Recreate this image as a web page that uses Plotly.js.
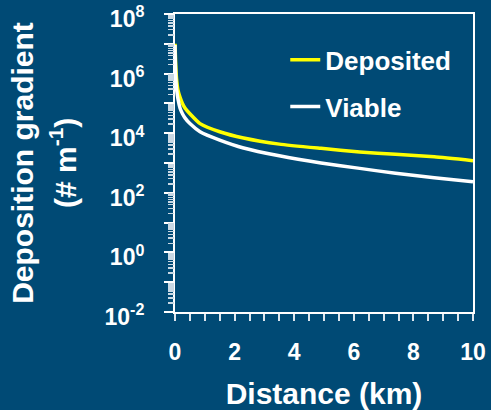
<!DOCTYPE html>
<html>
<head>
<meta charset="utf-8">
<script src="https://cdn.plot.ly/plotly-3.0.1.min.js"></script>
<style>
html,body{margin:0;padding:0;background:#004A75;}
#chart{width:491px;height:410px;}
</style>
</head>
<body>
<div id="chart"></div>
<script>
// Distance (km)
const distance  = [0, 0.02, 0.05, 0.1, 0.17, 0.25, 0.34, 0.5, 0.84, 1.5, 2.3, 3.5, 4.9, 6.2, 7.4, 8.7, 10];
// Deposition gradient (# m^-1)
const deposited = [1.0e7, 2.5e6, 7.1e5, 2.8e5, 1.6e5, 1.0e5, 6.9e4, 4.5e4, 2.1e4, 1.12e4, 6.9e3, 4.3e3, 3.1e3, 2.35e3, 1.95e3, 1.62e3, 1.2e3];
const viable    = [9.1e6, 1.0e6, 3.2e5, 1.4e5, 6.9e4, 4.5e4, 3.2e4, 2.1e4, 1.12e4, 5.9e3, 3.2e3, 1.74e3, 1.0e3, 660, 450, 320, 235];
const seriesNames = ['Deposited', 'Viable'];

const xTickVals = [0,0.5,1,1.5,2,2.5,3,3.5,4,4.5,5,5.5,6,6.5,7,7.5,8,8.5,9,9.5,10];
const xTickText = ['0','','','','2','','','','4','','','','6','','','','8','','','','10'];
const yTickVals = [1e-2,1e-1,1e0,1e1,1e2,1e3,1e4,1e5,1e6,1e7,1e8];
const yTickText = ['10<sup>-2</sup>','','10<sup>0</sup>','','10<sup>2</sup>','','10<sup>4</sup>','','10<sup>6</sup>','','10<sup>8</sup>'];
const yMinorVals = [];
for (let e = -2; e < 8; e++) for (let m = 2; m <= 9; m++) yMinorVals.push(m * Math.pow(10, e));

const FONT = 'Liberation Sans, Arial, sans-serif';
const BG = '#004A75';
const Y_RANGE = [-2.0002, 8.0002];

const traces = [
  {x: distance, y: deposited, name: seriesNames[0], mode: 'lines', legendgroup: 'a',
   line: {color: '#FFFF00', width: 3.5, shape: 'spline', smoothing: 0.5}},
  {x: distance, y: viable, name: seriesNames[1], mode: 'lines', legendgroup: 'b',
   line: {color: '#FFFFFF', width: 3.5, shape: 'spline', smoothing: 0.5}}
];

const layout = {
  width: 491, height: 410,
  paper_bgcolor: BG, plot_bgcolor: BG,
  margin: {l: 175, r: 18, t: 14, b: 98},
  font: {family: FONT, color: '#FFFFFF'},
  showlegend: true,
  legend: {x: 0.37, y: 0.925, xanchor: 'left', yanchor: 'top', bgcolor: 'rgba(0,0,0,0)',
           font: {size: 26, weight: 'bold', color: '#FFFFFF', family: FONT}, tracegroupgap: 10},
  xaxis: {
    range: [0, 10], showgrid: false, zeroline: false,
    showline: true, linecolor: '#FFFFFF', linewidth: 2, mirror: true,
    tickmode: 'array', tickvals: xTickVals, ticktext: xTickText,
    ticks: 'outside', ticklen: 7, tickwidth: 2, tickcolor: '#DDE6EE',
    ticklabelstandoff: 11, ticklabeloverflow: 'allow',
    tickfont: {size: 23, weight: 'bold', color: '#FFFFFF', family: FONT},
    title: {text: 'Distance (km)', font: {size: 30, weight: 'bold', color: '#FFFFFF', family: FONT}, standoff: 23}
  },
  yaxis: {
    type: 'log', range: Y_RANGE, showgrid: false, zeroline: false,
    showline: true, linecolor: '#FFFFFF', linewidth: 2, mirror: true,
    tickmode: 'array', tickvals: yTickVals, ticktext: yTickText,
    ticks: 'outside', ticklen: 9, tickwidth: 2, tickcolor: '#FFFFFF',
    ticklabelstandoff: 15, ticklabelshift: 5, ticklabeloverflow: 'allow',
    tickfont: {size: 23, weight: 'bold', color: '#FFFFFF', family: FONT},
    title: {text: 'Deposition gradient', font: {size: 30, weight: 'bold', color: '#FFFFFF', family: FONT}, standoff: 62}
  },
  yaxis2: {
    type: 'log', range: Y_RANGE, overlaying: 'y', side: 'left', showgrid: false, zeroline: false,
    showline: false, tickmode: 'array', tickvals: yMinorVals, ticktext: yMinorVals.map(() => ''),
    ticks: 'outside', ticklen: 6, tickwidth: 1.5, tickcolor: '#C8D8E4', showticklabels: false
  },
  annotations: [
    {text: '(# m<sup>-1</sup>)', xref: 'paper', yref: 'paper', x: 0, y: 0.5,
     xanchor: 'center', yanchor: 'middle', xshift: -112, textangle: -90, showarrow: false,
     font: {size: 30, weight: 'bold', color: '#FFFFFF', family: FONT}}
  ]
};

traces.push({x: [distance[0]], y: [viable[0]], yaxis: 'y2', mode: 'lines', showlegend: false,
             hoverinfo: 'skip', line: {color: 'rgba(0,0,0,0)'}});

Plotly.newPlot('chart', traces, layout, {displayModeBar: false, staticPlot: true});
</script>
</body>
</html>
